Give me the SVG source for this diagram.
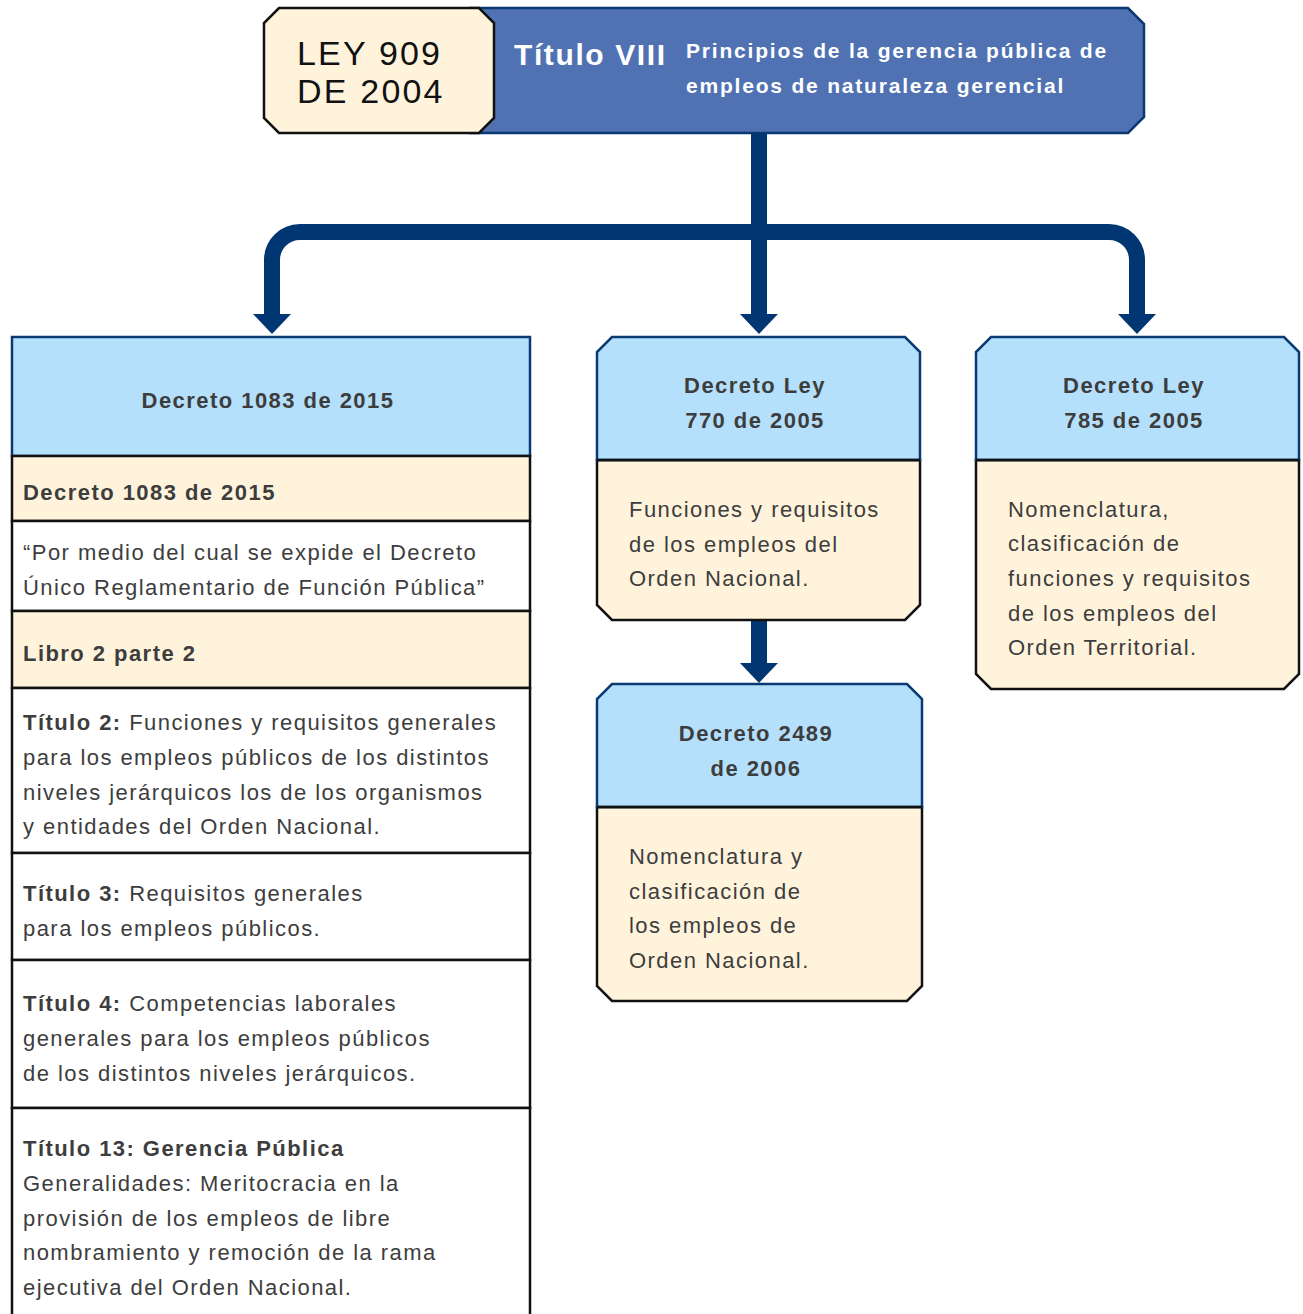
<svg xmlns="http://www.w3.org/2000/svg" width="1303" height="1314" viewBox="0 0 1303 1314">
<style>
.t{font-family:"Liberation Sans","DejaVu Sans",sans-serif;font-size:22px;fill:#3d3d3d;letter-spacing:1.45px}
.b{font-weight:bold}
.c{text-anchor:middle}
.blue{fill:#b5e0fc;stroke:#0a3a72;stroke-width:2.5}
.cream{fill:#fff3dc;stroke:#111;stroke-width:2.5}
.white{fill:#fff;stroke:#111;stroke-width:2.5}
.conn{fill:none;stroke:#003671;stroke-width:16}
.head{fill:#003671}
.ley{font-family:"Liberation Sans","DejaVu Sans",sans-serif;font-size:34px;fill:#111;letter-spacing:2.2px}
.w{font-family:"Liberation Sans","DejaVu Sans",sans-serif;font-weight:bold;fill:#fff}
</style>
<rect width="1303" height="1314" fill="#fff"/>
<g id="header">
<polygon points="470,8 1128,8 1144,24 1144,117 1128,133 470,133" fill="#5072b2" stroke="#0a3a72" stroke-width="2.5"/>
<polygon points="279,8 479,8 494,23 494,118 479,133 279,133 264,118 264,23" fill="#fff3dc" stroke="#111" stroke-width="2.5"/>
<text x="297" y="65" class="ley">LEY 909</text>
<text x="297" y="103" class="ley">DE 2004</text>
<text x="514" y="65" class="w" style="font-size:30px;letter-spacing:1.6px">Título VIII</text>
<text x="686" y="58" class="w" style="font-size:21px;letter-spacing:1.8px">Principios de la gerencia pública de</text>
<text x="686" y="93" class="w" style="font-size:21px;letter-spacing:1.8px">empleos de naturaleza gerencial</text>
</g>
<g id="connectors">
<path class="conn" d="M759,133 V318"/>
<path class="conn" d="M272,316 V260 A28,28 0 0 1 300,232 H1109 A28,28 0 0 1 1137,260 V316"/>
<path class="conn" d="M759,620 V665"/>
<polygon class="head" points="253,314 291,314 272,334"/>
<polygon class="head" points="740,314 778,314 759,334"/>
<polygon class="head" points="1118,314 1156,314 1137,334"/>
<polygon class="head" points="740,663 778,663 759,683"/>
</g>
<g id="decreto1083">
<rect x="12" y="337" width="518" height="119" class="blue"/>
<rect x="12" y="456" width="518" height="65" class="cream"/>
<rect x="12" y="521" width="518" height="90" class="white"/>
<rect x="12" y="611" width="518" height="77" class="cream"/>
<rect x="12" y="688" width="518" height="165" class="white"/>
<rect x="12" y="853" width="518" height="107" class="white"/>
<rect x="12" y="960" width="518" height="148" class="white"/>
<rect x="12" y="1108" width="518" height="220" class="white"/>
<text x="268" y="408" class="t b c">Decreto 1083 de 2015</text>
<text x="23" y="500" class="t b">Decreto 1083 de 2015</text>
<text x="23" y="560" class="t">“Por medio del cual se expide el Decreto</text>
<text x="23" y="595" class="t">Único Reglamentario de Función Pública”</text>
<text x="23" y="661" class="t b">Libro 2 parte 2</text>
<text x="23" y="730" class="t"><tspan class="b">Título 2:</tspan> Funciones y requisitos generales</text>
<text x="23" y="765" class="t">para los empleos públicos de los distintos</text>
<text x="23" y="800" class="t">niveles jerárquicos los de los organismos</text>
<text x="23" y="834" class="t">y entidades del Orden Nacional.</text>
<text x="23" y="901" class="t"><tspan class="b">Título 3:</tspan> Requisitos generales</text>
<text x="23" y="936" class="t">para los empleos públicos.</text>
<text x="23" y="1011" class="t"><tspan class="b">Título 4:</tspan> Competencias laborales</text>
<text x="23" y="1046" class="t">generales para los empleos públicos</text>
<text x="23" y="1081" class="t">de los distintos niveles jerárquicos.</text>
<text x="23" y="1156" class="t b">Título 13: Gerencia Pública</text>
<text x="23" y="1191" class="t">Generalidades: Meritocracia en la</text>
<text x="23" y="1226" class="t">provisión de los empleos de libre</text>
<text x="23" y="1260" class="t">nombramiento y remoción de la rama</text>
<text x="23" y="1295" class="t">ejecutiva del Orden Nacional.</text>
</g>
<g id="decreto770">
<polygon points="597,460 920,460 920,605 905,620 612,620 597,605" class="cream"/>
<polygon points="612,337 905,337 920,352 920,460 597,460 597,352" class="blue"/>
<line x1="597" y1="460" x2="920" y2="460" stroke="#111" stroke-width="2.5"/>
<text x="755" y="393" class="t b c">Decreto Ley</text>
<text x="755" y="428" class="t b c">770 de 2005</text>
<text x="629" y="517" class="t">Funciones y requisitos</text>
<text x="629" y="552" class="t">de los empleos del</text>
<text x="629" y="586" class="t">Orden Nacional.</text>
</g>
<g id="decreto2489">
<polygon points="597,807 922,807 922,986 907,1001 612,1001 597,986" class="cream"/>
<polygon points="612,684 907,684 922,699 922,807 597,807 597,699" class="blue"/>
<line x1="597" y1="807" x2="922" y2="807" stroke="#111" stroke-width="2.5"/>
<text x="756" y="741" class="t b c">Decreto 2489</text>
<text x="756" y="776" class="t b c">de 2006</text>
<text x="629" y="864" class="t">Nomenclatura y</text>
<text x="629" y="899" class="t">clasificación de</text>
<text x="629" y="933" class="t">los empleos de</text>
<text x="629" y="968" class="t">Orden Nacional.</text>
</g>
<g id="decreto785">
<polygon points="976,460 1299,460 1299,674 1284,689 991,689 976,674" class="cream"/>
<polygon points="991,337 1284,337 1299,352 1299,460 976,460 976,352" class="blue"/>
<line x1="976" y1="460" x2="1299" y2="460" stroke="#111" stroke-width="2.5"/>
<text x="1134" y="393" class="t b c">Decreto Ley</text>
<text x="1134" y="428" class="t b c">785 de 2005</text>
<text x="1008" y="517" class="t">Nomenclatura,</text>
<text x="1008" y="551" class="t">clasificación de</text>
<text x="1008" y="586" class="t">funciones y requisitos</text>
<text x="1008" y="621" class="t">de los empleos del</text>
<text x="1008" y="655" class="t">Orden Territorial.</text>
</g>
</svg>
